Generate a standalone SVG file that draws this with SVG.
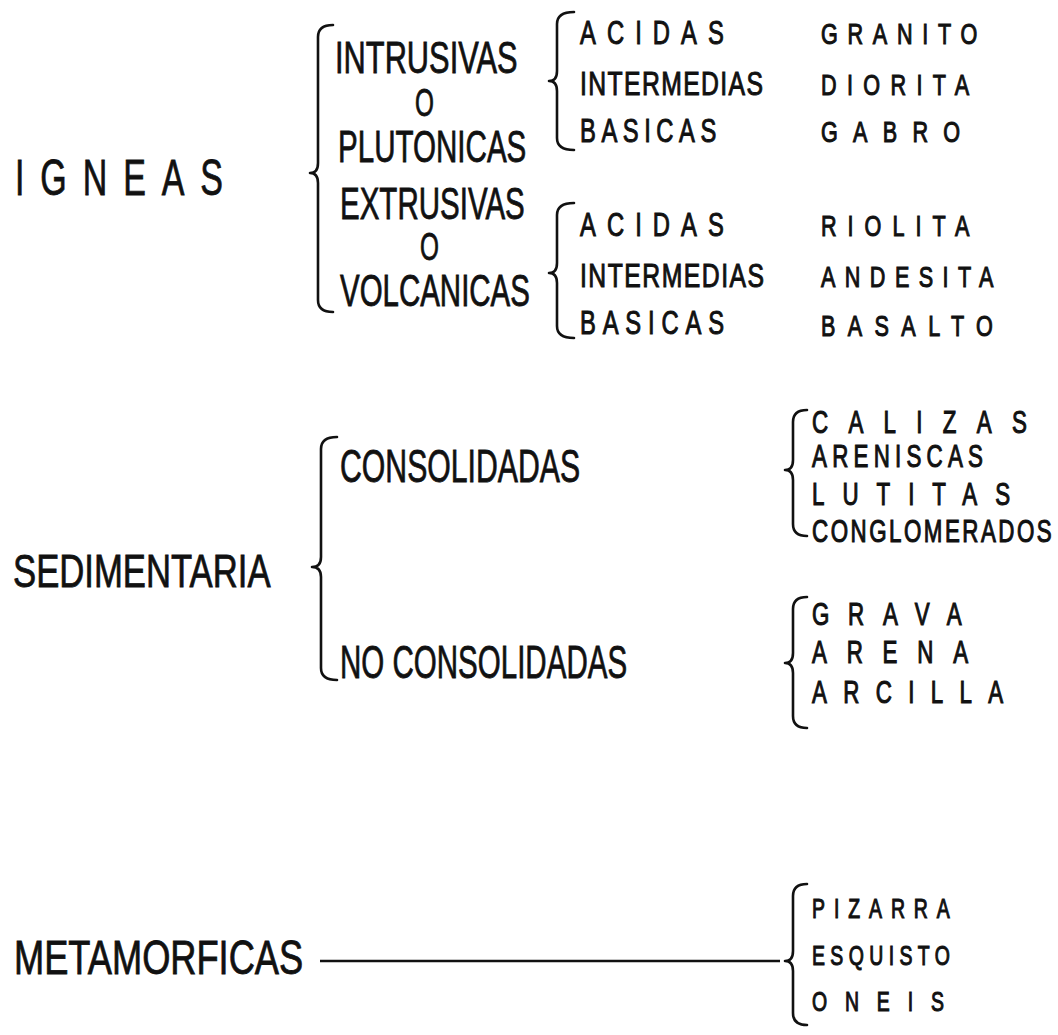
<svg xmlns="http://www.w3.org/2000/svg" width="1058" height="1035" viewBox="0 0 1058 1035">
<style>
text{font-family:"Liberation Sans",Arial,sans-serif;fill:#111;stroke:#111;}
.big{font-size:50px;stroke-width:0.8px;}
.mid{font-size:45px;stroke-width:0.8px;}
.oo{font-size:38px;stroke-width:0.8px;}
.sub{font-size:33px;stroke-width:1px;}
.rock{font-size:30px;stroke-width:1.1px;}
.rock2{font-size:31px;stroke-width:1.1px;}
.small{font-size:27px;stroke-width:1.1px;}
.brace{fill:none;stroke:#111;stroke-width:2.6;stroke-linecap:round;stroke-linejoin:round;}
.conn{fill:none;stroke:#111;stroke-width:2.6;}
</style>
<rect width="1058" height="1035" fill="#fff"/>

<g id="connectors">
<path class="brace" d="M333 25 Q318 25 318 37 L318 163 Q318 173 310 173 Q318 173 318 183 L318 300 Q318 312 333 312"/>
<path class="brace" d="M574 12 Q557 12 557 24 L557 71 Q557 81 549 81 Q557 81 557 91 L557 138 Q557 150 574 150"/>
<path class="brace" d="M574 203 Q557 203 557 215 L557 263 Q557 273 549 273 Q557 273 557 283 L557 326 Q557 338 574 338"/>
<path class="brace" d="M337 437 Q321 437 321 449 L321 557 Q321 567 312 567 Q321 567 321 577 L321 668 Q321 680 337 680"/>
<path class="brace" d="M807 410 Q793 410 793 422 L793 460 Q793 470 785 470 Q793 470 793 480 L793 524 Q793 536 807 536"/>
<path class="brace" d="M807 597 Q793 597 793 609 L793 653 Q793 663 785 663 Q793 663 793 673 L793 716 Q793 728 807 728"/>
<path class="brace" d="M807 884 Q793 884 793 896 L793 951 Q793 961 785 961 Q793 961 793 971 L793 1013 Q793 1025 807 1025"/>
<path class="conn" d="M320 961 H780"/>
</g>

<g id="igneas"><text class="big" transform="translate(15 195) scale(0.68 1)" letter-spacing="23.4">IGNEAS</text></g>
<g id="intrusivas">
<text class="mid" transform="translate(335 73) scale(0.685 1)">INTRUSIVAS</text>
<text class="oo" transform="translate(415 116) scale(0.64 1)">O</text>
<text class="mid" transform="translate(338 162) scale(0.657 1)">PLUTONICAS</text>
</g>
<g id="extrusivas">
<text class="mid" transform="translate(340 219) scale(0.656 1)">EXTRUSIVAS</text>
<text class="oo" transform="translate(420 260) scale(0.64 1)">O</text>
<text class="mid" transform="translate(340 306) scale(0.655 1)">VOLCANICAS</text>
</g>
<g id="intrusivas-tipos">
<text class="sub" transform="translate(580 44) scale(0.72 1)" letter-spacing="15.4">ACIDAS</text>
<text class="sub" transform="translate(580 95) scale(0.75 1)" letter-spacing="1.85">INTERMEDIAS</text>
<text class="sub" transform="translate(580 142) scale(0.72 1)" letter-spacing="7.7">BASICAS</text>
</g>
<g id="extrusivas-tipos">
<text class="sub" transform="translate(580 236) scale(0.72 1)" letter-spacing="15.4">ACIDAS</text>
<text class="sub" transform="translate(580 287) scale(0.75 1)" letter-spacing="2">INTERMEDIAS</text>
<text class="sub" transform="translate(580 334) scale(0.72 1)" letter-spacing="9.5">BASICAS</text>
</g>
<g id="rocas-intrusivas">
<text class="rock" transform="translate(821 44) scale(0.72 1)" letter-spacing="13.5">GRANITO</text>
<text class="rock" transform="translate(821 95) scale(0.72 1)" letter-spacing="14.4">DIORITA</text>
<text class="rock" transform="translate(821 142) scale(0.72 1)" letter-spacing="21.2">GABRO</text>
</g>
<g id="rocas-extrusivas">
<text class="rock" transform="translate(821 236) scale(0.72 1)" letter-spacing="15.3">RIOLITA</text>
<text class="rock" transform="translate(821 287) scale(0.72 1)" letter-spacing="13.1">ANDESITA</text>
<text class="rock" transform="translate(821 336) scale(0.72 1)" letter-spacing="17.2">BASALTO</text>
</g>

<g id="sedimentaria"><text class="big" style="font-size:47px" transform="translate(13 587) scale(0.738 1)">SEDIMENTARIA</text></g>
<g id="consolidadas"><text class="mid" style="font-size:46px" transform="translate(340 482) scale(0.657 1)">CONSOLIDADAS</text></g>
<g id="no-consolidadas"><text class="mid" style="font-size:46px" transform="translate(340 678) scale(0.642 1)">NO CONSOLIDADAS</text></g>
<g id="rocas-consolidadas">
<text class="rock2" transform="translate(812 433) scale(0.72 1)" letter-spacing="28.2">CALIZAS</text>
<text class="rock2" transform="translate(812 467) scale(0.72 1)" letter-spacing="7.3">ARENISCAS</text>
<text class="rock2" transform="translate(812 505) scale(0.72 1)" letter-spacing="25">LUTITAS</text>
<text class="rock2" transform="translate(812 542) scale(0.72 1)" letter-spacing="3.5">CONGLOMERADOS</text>
</g>
<g id="rocas-no-consolidadas">
<text class="rock2" transform="translate(812 625) scale(0.72 1)" letter-spacing="26">GRAVA</text>
<text class="rock2" transform="translate(812 663) scale(0.72 1)" letter-spacing="27.5">ARENA</text>
<text class="rock2" transform="translate(812 703) scale(0.72 1)" letter-spacing="22.7">ARCILLA</text>
</g>

<g id="metamorficas"><text class="big" style="font-size:48px" transform="translate(14 974) scale(0.755 1)">METAMORFICAS</text></g>
<g id="rocas-metamorficas">
<text class="small" transform="translate(812 918) scale(0.72 1)" letter-spacing="12.4">PIZARRA</text>
<text class="small" transform="translate(812 965) scale(0.72 1)" letter-spacing="7.5">ESQUISTO</text>
<text class="small" transform="translate(812 1011) scale(0.72 1)" letter-spacing="24.8">ONEIS</text>
</g>
</svg>
